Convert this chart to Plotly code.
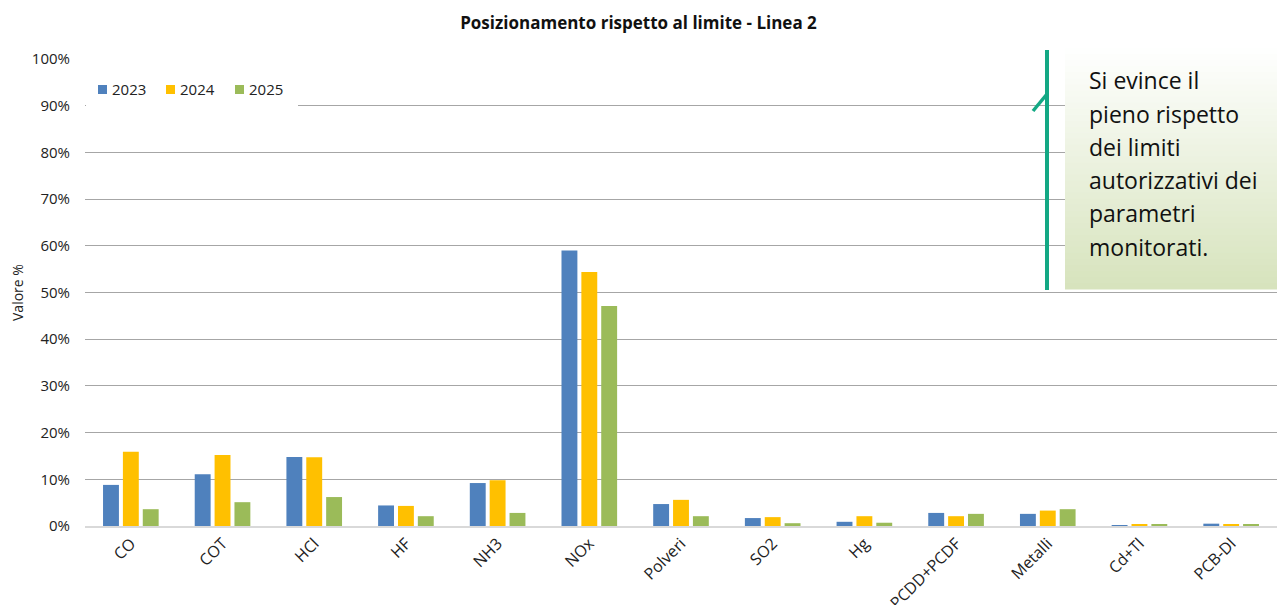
import plotly.graph_objects as go

categories = ["CO", "COT", "HCl", "HF", "NH3", "NOx", "Polveri", "SO2", "Hg",
              "PCDD+PCDF", "Metalli", "Cd+Tl", "PCB-Dl"]
v2023 = [8.8, 11.1, 14.8, 4.4, 9.2, 59.0, 4.7, 1.7, 0.9, 2.8, 2.6, 0.2, 0.5]
v2024 = [15.9, 15.2, 14.7, 4.3, 9.8, 54.4, 5.6, 1.9, 2.1, 2.1, 3.3, 0.4, 0.4]
v2025 = [3.6, 5.1, 6.2, 2.1, 2.8, 47.1, 2.1, 0.6, 0.7, 2.6, 3.6, 0.3, 0.4]
series_names = ["2023", "2024", "2025"]
series_colors = ["#4f81bd", "#ffc000", "#9bbb59"]
y_ticks = list(range(0, 101, 10))
y_tick_labels = ["%d%%" % v for v in y_ticks]
note_lines = ["Si evince il", "pieno rispetto", "dei limiti",
              "autorizzativi dei", "parametri", "monitorati."]

W, H = 1277, 605
L, R, T, B = 85, 0, 59, 79
PW, PH = W - L - R, H - T - B


def px(x):
    return (x - L) / PW


def py(y):
    return (H - B - y) / PH


FONT = "Open Sans"

fig = go.Figure()
for name, vals, col in zip(series_names, [v2023, v2024, v2025], series_colors):
    fig.add_trace(go.Bar(x=categories, y=vals, name=name,
                         marker=dict(color=col, line=dict(width=0)),
                         showlegend=False))

shapes = []
annotations = []

# white legend background
shapes.append(dict(type="rect", xref="paper", yref="paper",
                   x0=px(86), x1=px(298), y0=py(125), y1=py(50),
                   fillcolor="white", line=dict(width=0), layer="above"))
# custom legend
leg_x = [98, 166, 235]
for name, col, x0 in zip(series_names, series_colors, leg_x):
    shapes.append(dict(type="rect", xref="paper", yref="paper",
                       x0=px(x0), x1=px(x0 + 9), y0=py(94), y1=py(85),
                       fillcolor=col, line=dict(width=0), layer="above"))
    annotations.append(dict(text=name, xref="paper", yref="paper",
                            x=px(x0 + 12), y=py(89), xanchor="left", yanchor="middle",
                            showarrow=False, font=dict(family=FONT, size=15, color="#222")))

# gradient box
top, bot = 48, 289
n = 40
c0 = (255, 255, 255)
c1 = (214, 227, 188)
for i in range(n):
    ya = top + (bot - top) * i / n
    yb = top + (bot - top) * (i + 1) / n
    t = (i + 0.5) / n
    c = tuple(round(c0[k] + (c1[k] - c0[k]) * t) for k in range(3))
    shapes.append(dict(type="rect", xref="paper", yref="paper",
                       x0=px(1065), x1=px(1277), y0=py(yb + 0.5), y1=py(ya),
                       fillcolor="rgb(%d,%d,%d)" % c, line=dict(width=0), layer="above"))

# green callout line
shapes.append(dict(type="line", xref="paper", yref="paper",
                   x0=px(1047), x1=px(1047), y0=py(290), y1=py(50),
                   line=dict(color="#13a884", width=4), layer="above"))
shapes.append(dict(type="line", xref="paper", yref="paper",
                   x0=px(1033), x1=px(1047), y0=py(111), y1=py(94),
                   line=dict(color="#13a884", width=3.5), layer="above"))

line_y = [80, 114, 147, 180, 213, 247]
for txt, yy in zip(note_lines, line_y):
    annotations.append(dict(text=txt, xref="paper", yref="paper",
                            x=px(1087), y=py(yy), xanchor="left", yanchor="middle",
                            showarrow=False, font=dict(family=FONT, size=23, color="#111")))

# y-axis title
annotations.append(dict(text="Valore %", xref="paper", yref="paper",
                        x=px(17), y=py(293), xanchor="center", yanchor="middle",
                        textangle=-90, showarrow=False,
                        font=dict(family=FONT, size=14, color="#222")))

fig.update_layout(
    width=W, height=H,
    margin=dict(l=L, r=R, t=T, b=B, pad=0, autoexpand=False),
    paper_bgcolor="white", plot_bgcolor="white",
    barmode="group", bargap=0.35, bargroupgap=0.2,
    title=dict(text="<b>Posizionamento rispetto al limite - Linea 2</b>",
               x=0.5, xref="container", xanchor="center",
               y=1 - 23 / H, yref="container", yanchor="middle",
               font=dict(family=FONT, size=17, color="#111")),
    font=dict(family=FONT, size=14, color="#222"),
    shapes=shapes, annotations=annotations,
    xaxis=dict(tickangle=-45, showgrid=False, showline=True, automargin=False,
               linecolor="#d9d9d9", linewidth=2, ticks="",
               tickfont=dict(family=FONT, size=16, color="#222")),
    yaxis=dict(range=[0, 100], tickvals=y_ticks, ticktext=y_tick_labels,
               showgrid=True, gridcolor="#a6a6a6", gridwidth=1, automargin=False,
               zeroline=False, showline=False, ticks="",
               ticklabelstandoff=14,
               tickfont=dict(family=FONT, size=15, color="#222")),
)

fig.write_html("out.html")
